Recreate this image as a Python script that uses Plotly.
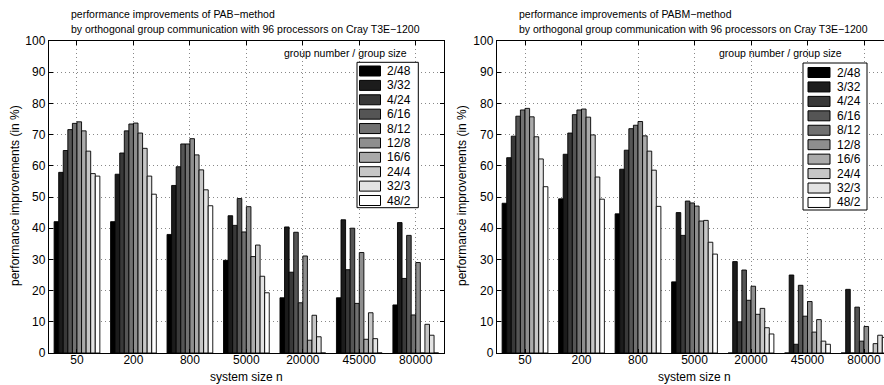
import plotly.graph_objects as go

W, H = 884, 385

categories = ["50", "200", "800", "5000", "20000", "45000", "80000"]
groups = ["2/48", "3/32", "4/24", "6/16", "8/12", "12/8", "16/6", "24/4", "32/3", "48/2"]
colors = ["#000000", "#1c1c1c", "#393939", "#555555", "#717171",
          "#8e8e8e", "#aaaaaa", "#c6c6c6", "#e3e3e3", "#ffffff"]

# values per system size (rows) for each group (columns), in %
pab = [
    [42.1, 57.9, 64.9, 71.6, 73.6, 74.1, 71.2, 64.7, 57.5, 56.7],
    [42.1, 57.3, 64.1, 71.2, 73.4, 73.7, 70.5, 65.6, 56.7, 50.9],
    [38.0, 53.7, 59.7, 67.0, 67.0, 68.7, 63.5, 58.7, 52.3, 47.2],
    [29.7, 44.0, 40.9, 49.5, 38.8, 46.9, 30.9, 34.6, 24.6, 19.3],
    [17.7, 40.4, 25.9, 38.7, 16.1, 31.1, 4.1, 12.1, 5.2, 0.0],
    [17.7, 42.7, 26.7, 40.0, 15.9, 32.2, 4.4, 12.9, 4.6, 0.0],
    [15.4, 41.8, 23.9, 37.7, 12.2, 29.0, 0.0, 9.2, 5.7, 0.0],
]
pabm = [
    [48.0, 62.6, 69.5, 75.9, 77.9, 78.4, 75.7, 69.3, 62.2, 53.3],
    [49.4, 63.7, 70.5, 76.4, 77.9, 78.2, 75.6, 69.9, 56.4, 49.3],
    [44.6, 58.9, 65.0, 71.9, 73.0, 74.2, 69.6, 64.7, 58.6, 47.0],
    [22.8, 45.0, 37.7, 48.7, 48.1, 47.1, 42.3, 42.5, 35.5, 31.7],
    [0.0, 29.3, 10.0, 26.6, 16.9, 21.4, 12.4, 14.3, 8.1, 6.1],
    [0.0, 25.0, 2.8, 21.7, 11.8, 16.5, 6.7, 10.7, 3.8, 2.8],
    [0.0, 20.4, 0.0, 14.7, 3.8, 8.5, 0.0, 3.0, 5.7, 5.0],
]

titles = [
    ["performance improvements of PAB\u2212method",
     "by orthogonal group communication with 96 processors on Cray T3E\u22121200"],
    ["performance improvements of PABM\u2212method",
     "by orthogonal group communication with 96 processors on Cray T3E\u22121200"],
]
ytitle = "performance improvements (in %)"
xtitle = "system size n"
legend_title = "group number / group size"

FONT = "Liberation Sans, Arial, Helvetica, sans-serif"


def px(x):
    return x / W


def py(y):
    return 1 - y / H


fig = go.Figure()

for k, data in enumerate([pab, pabm]):
    xa = "x" if k == 0 else "x2"
    ya = "y" if k == 0 else "y2"
    for j, g in enumerate(groups):
        fig.add_trace(go.Bar(
            x=categories,
            y=[row[j] for row in data],
            name=g,
            xaxis=xa, yaxis=ya,
            marker=dict(color=colors[j], line=dict(color="#000000", width=0.9)),
            showlegend=False,
            hoverinfo="x+y+name",
        ))

ydom = [py(353), py(41)]
left_dom = [px(48.75), px(444)]
right_dom = [px(496.75), 1.0]
right_end = -0.5 + (884 - 496.75) / 56.5

GRID = dict(showgrid=True, gridcolor="#888888", griddash="1px,3px", gridwidth=1)

common_x = dict(
    type="category", **GRID,
    ticks="inside", ticklen=4, tickcolor="#000", tickwidth=1,
    showline=True, linecolor="#000", linewidth=1, mirror="allticks",
    tickfont=dict(family=FONT, size=12, color="#000"), automargin=False,
    zeroline=False, fixedrange=True, ticklabelstandoff=-4,
)
common_y = dict(
    range=[0, 100], dtick=10, tick0=0, **GRID,
    ticks="inside", ticklen=4, tickcolor="#000",
    tickwidth=1, showline=True, linecolor="#000", linewidth=1,
    tickfont=dict(family=FONT, size=12, color="#000"), automargin=False,
    zeroline=False, fixedrange=True,
)

fig.update_layout(
    width=W, height=H,
    margin=dict(l=0, r=0, t=0, b=0),
    paper_bgcolor="#ffffff", plot_bgcolor="#ffffff",
    barmode="group", bargap=0.19, bargroupgap=0.0,
    font=dict(family=FONT, size=12, color="#000"),
    xaxis=dict(domain=left_dom, anchor="y", range=[-0.5, 6.5], **common_x),
    yaxis=dict(domain=ydom, anchor="x", mirror="allticks", **common_y),
    xaxis2=dict(domain=right_dom, anchor="y2", range=[-0.5, right_end], **common_x),
    yaxis2=dict(domain=ydom, anchor="x2", mirror=False, **common_y),
)

annotations = []
shapes = []

# titles
for k, x0 in enumerate([69, 517]):
    for i, line in enumerate(titles[k]):
        annotations.append(dict(
            text=line, xref="paper", yref="paper", x=px(x0), y=py(14 + 15 * i),
            xanchor="left", yanchor="middle", showarrow=False,
            font=dict(family=FONT, size=10.5, color="#000000"),
        ))

# axis titles
for xc_title, xc in [(246.4, 15), (694.5, 462)]:
    annotations.append(dict(
        text=xtitle, xref="paper", yref="paper", x=px(xc_title), y=0,
        xanchor="center", yanchor="bottom", showarrow=False, borderpad=0,
        font=dict(family=FONT, size=12, color="#000000"),
    ))
    annotations.append(dict(
        text=ytitle, xref="paper", yref="paper", x=px(xc), y=py(196),
        xanchor="center", yanchor="middle", showarrow=False, textangle=-90,
        font=dict(family=FONT, size=12, color="#000000"),
    ))

# custom legends
legends = [
    dict(box=(357, 62.3, 418.3, 207.7), sw=(359.5, 380.5), tx=385, y0=71, step=14.39,
         title_right=409),
    dict(box=(803, 63, 867, 210), sw=(808, 830), tx=835, y0=72.5, step=14.44,
         title_right=844),
]
for lg in legends:
    x0, y0, x1, y1 = lg["box"]
    shapes.append(dict(type="rect", xref="paper", yref="paper",
                       x0=px(x0), y0=py(y0), x1=px(x1), y1=py(y1),
                       line=dict(color="#000", width=1), fillcolor="#fff", layer="above"))
    annotations.append(dict(
        text=legend_title, xref="paper", yref="paper", x=px(lg["title_right"]), y=py(53),
        xanchor="right", yanchor="middle", showarrow=False,
        font=dict(family=FONT, size=10.5, color="#000000"),
    ))
    for j, g in enumerate(groups):
        yc = lg["y0"] + lg["step"] * j
        shapes.append(dict(type="rect", xref="paper", yref="paper",
                           x0=px(lg["sw"][0]), x1=px(lg["sw"][1]),
                           y0=py(yc - 5), y1=py(yc + 5),
                           line=dict(color="#000", width=1), fillcolor=colors[j],
                           layer="above"))
        annotations.append(dict(
            text=g, xref="paper", yref="paper", x=px(lg["tx"]), y=py(yc),
            xanchor="left", yanchor="middle", showarrow=False,
            font=dict(family=FONT, size=12, color="#000000"),
        ))

fig.update_layout(annotations=annotations, shapes=shapes)

fig.write_html("out.html")
